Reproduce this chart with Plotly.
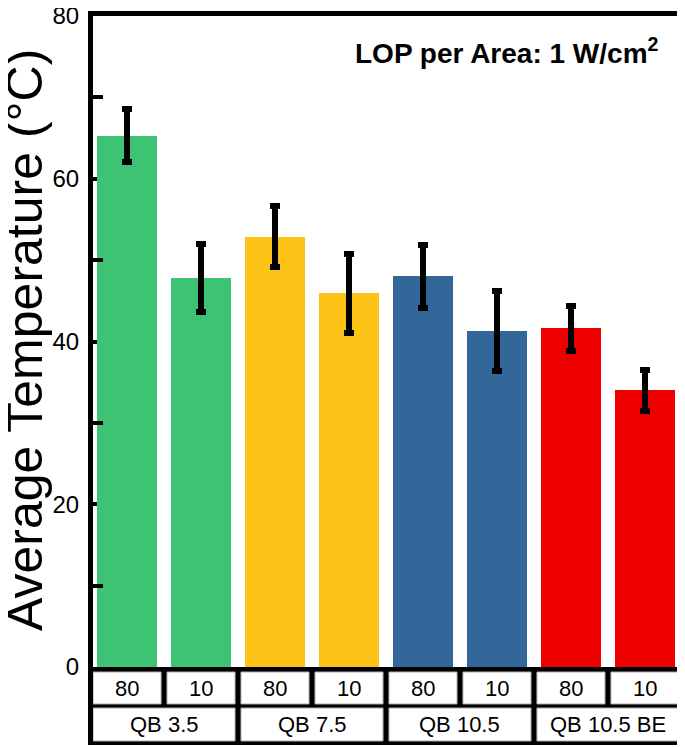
import plotly.graph_objects as go

# ---- data ----
groups = ["QB 3.5", "QB 7.5", "QB 10.5", "QB 10.5 BE"]
sub_labels = ["80", "10", "80", "10", "80", "10", "80", "10"]
temps = [65.3, 47.8, 52.9, 45.9, 48.0, 41.3, 41.6, 34.0]
errors = [3.3, 4.2, 3.8, 4.9, 3.9, 4.9, 2.8, 2.5]
group_colors = ["#3DC373", "#FDC316", "#336699", "#EE0000"]
y_ticks = [0, 20, 40, 60, 80]
y_minor = [10, 30, 50, 70]
y_title = "Average Temperature (°C)"
note = "<b>LOP per Area: 1 W/cm<sup>2</sup></b>"

FONT = "Liberation Sans, Arial, Helvetica, sans-serif"
# The page body has an 8px margin, so the figure is drawn 8px in from the window corner.
OFF = 8
W, H = 685 - OFF, 747 - OFF
# plot area in window pixels
PL, PR, PT, PB = 93, 679, 16, 667
ML, MR, MT, MB = PL - OFF, W - (PR - OFF), PT - OFF, H - (PB - OFF)
plot_h = PB - PT
plot_w = PR - PL

def py(p):
    """window pixel row -> paper y"""
    return (PB - p) / plot_h

def px(p):
    """window pixel column -> paper x"""
    return (p - PL) / plot_w

xs = list(range(len(temps)))
colors = [group_colors[i // 2] for i in xs]

fig = go.Figure()
fig.add_trace(go.Bar(
    x=xs, y=temps, width=0.81,
    marker=dict(color=colors, line=dict(width=0)),
    error_y=dict(type="data", array=errors, visible=True,
                 color="black", thickness=6, width=5),
    showlegend=False,
))

half = 0.46
shapes = []
# black backing of the category table
shapes.append(dict(type="rect", xref="paper", yref="paper",
                   x0=px(88), x1=px(679.5), y0=py(667), y1=py(745),
                   fillcolor="black", line=dict(width=0), layer="above"))
annotations = []
cell_font = dict(family=FONT, size=22, color="black")
# row 1 cells
for i, lab in enumerate(sub_labels):
    shapes.append(dict(type="rect", xref="x", yref="paper",
                       x0=i - half, x1=i + half, y0=py(704), y1=py(672),
                       fillcolor="white", line=dict(color="#aaaaaa", width=1),
                       layer="above"))
    annotations.append(dict(x=i, y=py(688), xref="x", yref="paper", text=lab,
                            showarrow=False, font=cell_font,
                            xanchor="center", yanchor="middle"))
# row 2 cells
for g, name in enumerate(groups):
    shapes.append(dict(type="rect", xref="x", yref="paper",
                       x0=2 * g - half, x1=2 * g + 1 + half, y0=py(741), y1=py(708),
                       fillcolor="white", line=dict(color="#aaaaaa", width=1),
                       layer="above"))
    annotations.append(dict(x=2 * g + 0.5, y=py(724.5), xref="x", yref="paper", text=name,
                            showarrow=False, font=cell_font,
                            xanchor="center", yanchor="middle"))

# y axis title as rotated annotation
annotations.append(dict(x=px(-4), y=py(340), xref="paper", yref="paper", text=y_title,
                        textangle=-90, showarrow=False, borderpad=0,
                        font=dict(family=FONT, size=50, color="black"),
                        xanchor="left", yanchor="middle"))
# note
annotations.append(dict(x=px(660), y=py(70), xref="paper", yref="paper", text=note,
                        showarrow=False, borderpad=0,
                        font=dict(family=FONT, size=28, color="black"),
                        xanchor="right", yanchor="bottom"))

fig.update_layout(
    width=W, height=H,
    margin=dict(l=ML, r=MR, t=MT, b=MB, pad=0, autoexpand=False),
    paper_bgcolor="white", plot_bgcolor="white",
    font=dict(family=FONT, color="black"),
    shapes=shapes, annotations=annotations,
    bargap=0,
    xaxis=dict(range=[-0.46, len(temps) - 1 + 0.46], showticklabels=False,
               ticks="", showgrid=False, zeroline=False, automargin=False,
               showline=True, mirror=True, linewidth=5, linecolor="black"),
    yaxis=dict(range=[0, 80], tickvals=y_ticks, ticktext=[str(v) for v in y_ticks],
               ticks="inside", ticklen=4, tickwidth=4, tickcolor="black",
               tickfont=dict(family=FONT, size=24, color="black"),
               ticklabelstandoff=4, ticklabeloverflow="allow", automargin=False,
               showgrid=False, zeroline=False,
               showline=True, mirror=True, linewidth=5, linecolor="black",
               minor=dict(tickvals=y_minor, ticks="inside", ticklen=10,
                          tickwidth=4, tickcolor="black", showgrid=False)),
)

fig.write_html("out.html")
